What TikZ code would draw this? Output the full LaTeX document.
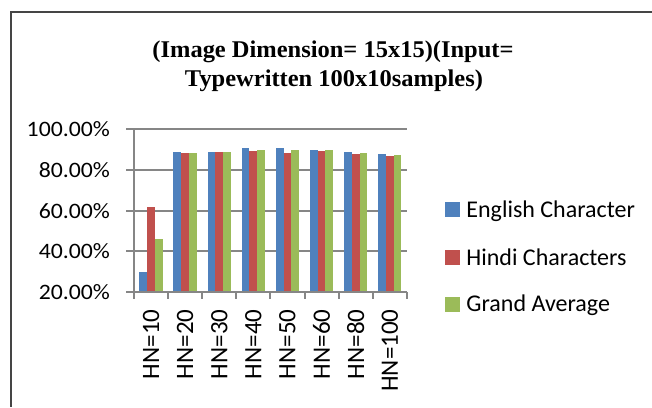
\documentclass[tikz,border=0pt]{standalone}
\usepackage{fontspec}
\usepackage{xcolor}
\usepackage{tikz}
\usetikzlibrary{positioning}
\setmainfont{Carlito}
\newfontfamily\titlefont[FakeStretch=1.02]{Liberation Serif}
\newfontfamily\ticksfont[FakeStretch=1.08]{Carlito}
\definecolor{engblue}{HTML}{4F81BD}
\definecolor{hinred}{HTML}{C0504D}
\definecolor{avggreen}{HTML}{9BBB59}
\definecolor{gridgray}{HTML}{868686}
\definecolor{framegray}{HTML}{454545}

\begin{document}
\begin{tikzpicture}[x=1pt, y=1pt,
    heading/.style={font=\titlefont\bfseries\fontsize{24}{28}\selectfont, anchor=base, inner sep=0pt},
    ylab/.style={font=\ticksfont\fontsize{22}{26}\selectfont, anchor=east, inner sep=0pt},
    xlab/.style={font=\fontsize{25}{30}\selectfont, anchor=east, rotate=90, inner sep=0pt},
    legtext/.style={font=\fontsize{24}{28}\selectfont, inner sep=0pt},
    legkey/.style={minimum size=15pt, inner sep=0pt},
    grid line/.style={gridgray, line width=2pt},
]
  \useasboundingbox (0,0) rectangle (652,407);
  \draw[framegray, line width=2.2pt] (652,395) -- (11,395) -- (11,0);

  \node[heading] (title1) at (333,349) {(Image Dimension= 15x15)(Input=};
  \node[heading] (title2) at (334,320.3) {Typewritten 100x10samples)};

  \begin{scope}[shift={(134,115)}, x=34.1pt, y=2.035pt]
    \foreach \v in {20,40,...,100} {
      \draw[grid line] (-0.23,\v-20) -- (8,\v-20);
      \node[ylab] (y\v) at (-0.7,\v-20) {\v.00\%};
    }
    \foreach \i/\hn/\eng/\hin/\avg in {1/10/30.0/61.9/46.0, 2/20/88.9/88.1/88.4,
        3/30/88.6/88.9/88.9, 4/40/90.8/89.4/89.9, 5/50/90.8/88.3/89.6,
        6/60/89.9/89.4/89.6, 7/80/88.9/87.8/88.3, 8/100/87.7/87.0/87.2} {
      \fill[engblue] (\i-1+0.157,0) rectangle ++(0.2287,\eng-20);
      \fill[hinred] (\i-1+0.3857,0) rectangle ++(0.2287,\hin-20);
      \fill[avggreen] (\i-1+0.6144,0) rectangle ++(0.2287,\avg-20);
      \draw[grid line] (\i,0) -- (\i,-3.2);
      \node[xlab] (hn\hn) at (\i-0.5,-8.5) {HN=\hn};
    }
    \draw[grid line] (0,-3.2) -- (0,80);
    \draw[grid line] (-0.23,0) -- (8,0);
  \end{scope}

  \foreach \k/\col/\lab/\ypos in {1/engblue/English Character/197.5,
      2/hinred/Hindi Characters/149.5, 3/avggreen/Grand Average/103} {
    \node[legkey, fill=\col] (key\k) at (452.5,\ypos) {};
    \node[legtext, right=6pt of key\k.south east, anchor=base west] (leg\k) {\lab};
  }
\end{tikzpicture}
\end{document}
